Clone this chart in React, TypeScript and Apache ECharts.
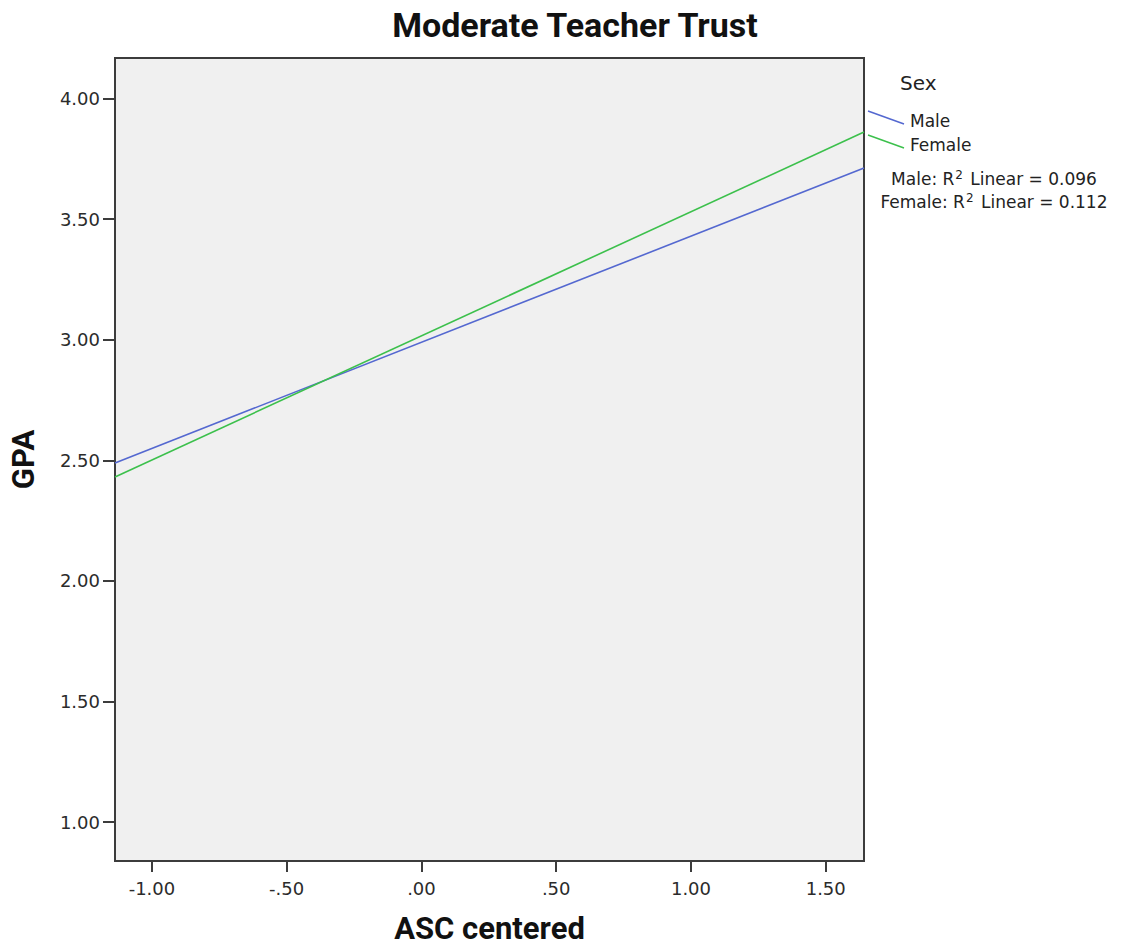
import React, { useEffect, useRef } from "react";
import * as echarts from "echarts";

// Fit-line endpoints (ASC centered) and predicted GPA
const xEnds = [-1.137, 1.642];
const maleGPA = [2.489, 3.712];
const femaleGPA = [2.431, 3.861];

const seriesNames = ["Male", "Female"];
const seriesColors = ["#5468d0", "#3cc04c"];
const r2Values = ["0.096", "0.112"];

const xTicks = [-1, -0.5, 0, 0.5, 1, 1.5];
const xTickLabels = ["-1.00", "-.50", ".00", ".50", "1.00", "1.50"];
const yTicks = [1, 1.5, 2, 2.5, 3, 3.5, 4];
const yTickLabels = ["1.00", "1.50", "2.00", "2.50", "3.00", "3.50", "4.00"];

const xMin = -1.137;
const xMax = 1.642;
const yMin = 0.839;
const yMax = 4.168;

const labelFor = (ticks: number[], labels: string[]) => (v: number) => {
  const i = ticks.findIndex((t) => Math.abs(t - v) < 1e-6);
  return i >= 0 ? labels[i] : "";
};

const FONT = "DejaVu Sans";
const BOLD_FONT = "Roboto";

export default function App() {
  const ref = useRef<HTMLDivElement>(null);

  useEffect(() => {
    if (!ref.current) return;
    const chart = echarts.init(ref.current, null, { renderer: "svg" });

    const maleData = xEnds.map((x, i) => [x, maleGPA[i]]);
    const femaleData = xEnds.map((x, i) => [x, femaleGPA[i]]);

    const legendGraphics: any[] = [
      {
        type: "text",
        x: 900,
        y: 83,
        style: {
          text: "Sex",
          font: `20px "${FONT}"`,
          fill: "#222",
          verticalAlign: "middle",
        },
      },
    ];
    seriesNames.forEach((name, i) => {
      const y0 = 111 + i * 24;
      legendGraphics.push({
        type: "line",
        shape: { x1: 868, y1: y0, x2: 904, y2: y0 + 13 },
        style: { stroke: seriesColors[i], lineWidth: 1.5 },
      });
      legendGraphics.push({
        type: "text",
        x: 910,
        y: y0 + 10,
        style: {
          text: name,
          font: `17px "${FONT}"`,
          fill: "#222",
          verticalAlign: "middle",
        },
      });
      legendGraphics.push({
        type: "text",
        x: 994,
        y: 179 + i * 23,
        style: {
          text: `${name}: R{sup|2} Linear = ${r2Values[i]}`,
          font: `17px "${FONT}"`,
          fill: "#222",
          align: "center",
          verticalAlign: "middle",
          rich: {
            sup: {
              font: `12px "${FONT}"`,
              fill: "#222",
              padding: [0, 2, 9, 1],
            },
          },
        },
      });
    });

    chart.setOption({
      animation: false,
      backgroundColor: "#ffffff",
      title: {
        text: "Moderate Teacher Trust",
        left: 570,
        top: 3,
        textAlign: "center",
        textStyle: {
          fontFamily: BOLD_FONT,
          fontWeight: "bold",
          fontSize: 34,
          color: "#111",
        },
      },
      grid: {
        left: 113,
        right: 268,
        top: 58,
        bottom: 85,
        show: true,
        backgroundColor: "#f0f0f0",
        borderColor: "#3c3c3c",
        borderWidth: 2,
      },
      xAxis: {
        type: "value",
        min: xMin,
        max: xMax,
        name: "ASC centered",
        nameLocation: "middle",
        nameGap: 52,
        nameTextStyle: {
          fontFamily: BOLD_FONT,
          fontWeight: "bold",
          fontSize: 31,
          color: "#111",
        },
        axisLine: { show: true, onZero: false, lineStyle: { color: "#3c3c3c", width: 2 } },
        axisTick: {
          show: true,
          length: 11,
          customValues: xTicks,
          lineStyle: { color: "#3c3c3c", width: 2 },
        },
        axisLabel: {
          customValues: xTicks,
          formatter: labelFor(xTicks, xTickLabels),
          fontFamily: FONT,
          fontSize: 18,
          color: "#2b2b2b",
          margin: 18,
        },
        splitLine: { show: false },
      },
      yAxis: {
        type: "value",
        min: yMin,
        max: yMax,
        name: "GPA",
        nameLocation: "middle",
        nameGap: 76,
        nameTextStyle: {
          fontFamily: BOLD_FONT,
          fontWeight: "bold",
          fontSize: 31,
          color: "#111",
        },
        axisLine: { show: true, onZero: false, lineStyle: { color: "#3c3c3c", width: 2 } },
        axisTick: {
          show: true,
          length: 12,
          customValues: yTicks,
          lineStyle: { color: "#3c3c3c", width: 2 },
        },
        axisLabel: {
          customValues: yTicks,
          formatter: labelFor(yTicks, yTickLabels),
          fontFamily: FONT,
          fontSize: 18,
          color: "#2b2b2b",
          margin: 15,
        },
        splitLine: { show: false },
      },
      series: [
        {
          name: seriesNames[0],
          type: "line",
          data: maleData,
          symbol: "none",
          lineStyle: { color: seriesColors[0], width: 1.6 },
          silent: true,
        },
        {
          name: seriesNames[1],
          type: "line",
          data: femaleData,
          symbol: "none",
          lineStyle: { color: seriesColors[1], width: 1.6 },
          silent: true,
        },
      ],
      graphic: legendGraphics,
    });

    return () => chart.dispose();
  }, []);

  return (
    <div
      ref={ref}
      style={{ position: "absolute", left: 0, top: 0, width: 1132, height: 949 }}
    />
  );
}
